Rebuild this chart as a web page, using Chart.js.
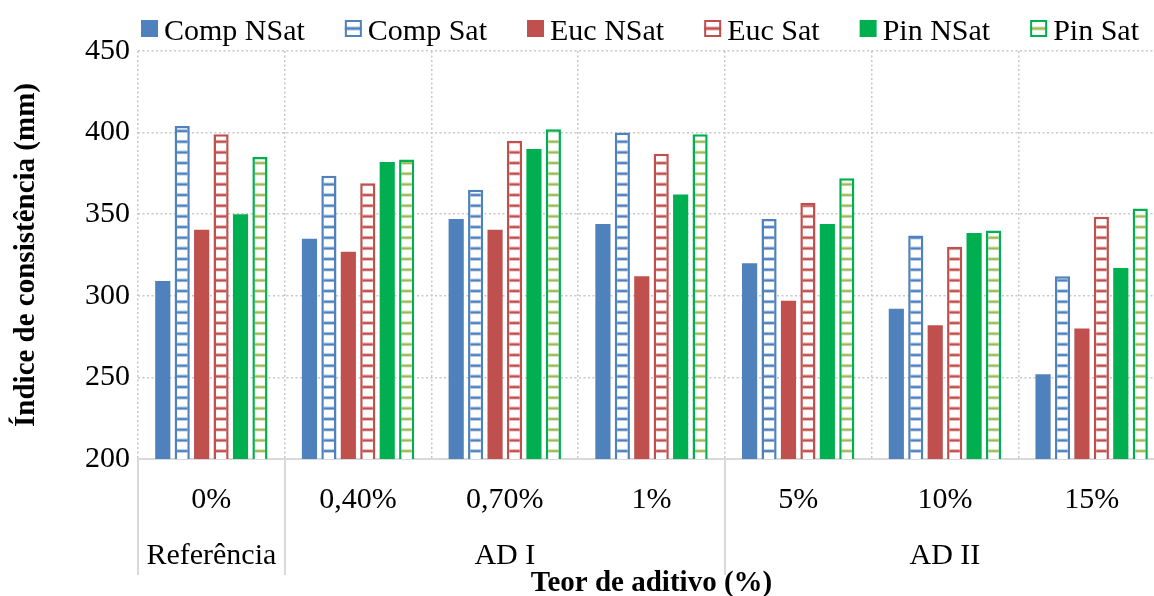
<!DOCTYPE html>
<html>
<head>
<meta charset="utf-8">
<script src="https://cdn.jsdelivr.net/npm/chart.js@4.4.1/dist/chart.umd.min.js"></script>
<style>
  html, body { margin: 0; padding: 0; overflow: hidden; background: #fff; width: 1154px; height: 596px; }
  canvas { display: block; }
</style>
</head>
<body>
<canvas id="chart" width="1166" height="596"></canvas>
<script>
// Additive content per mix, grouped by additive type
const categories = ['0%', '0,40%', '0,70%', '1%', '5%', '10%', '15%'];
const groupLabels = ['Referência', 'AD I', 'AD II'];
const groupSpans = [1, 3, 3];

// Consistency index (mm) per series
const compNSat = [309, 335, 347, 344, 320, 292, 252];
const compSat  = [404, 373.5, 365, 400, 347, 337, 312];
const eucNSat  = [340.5, 327, 340.5, 312, 297, 282, 280];
const eucSat   = [399, 369, 395, 387, 357, 330, 348.5];
const pinNSat  = [350, 382, 390, 362, 344, 338.5, 317];
const pinSat   = [385, 383.5, 402, 399, 372, 340, 353.5];

const yTickValues = [200, 250, 300, 350, 400, 450];

const FONT = "'Liberation Serif', 'Times New Roman', serif";

// Horizontal-stripe fill for the saturated series
function stripes(core, band) {
  const c = document.createElement('canvas');
  c.width = 8; c.height = 32;
  const g = c.getContext('2d');
  g.fillStyle = '#ffffff';
  g.fillRect(0, 0, 8, 32);
  for (let k = 0; k < 3; k++) {
    const y = k * 32 / 3 + 2;
    g.fillStyle = band;
    g.fillRect(0, y - 0.8, 8, 3.6);
    g.fillStyle = core;
    g.fillRect(0, y + 0.2, 8, 1.8);
  }
  return g.createPattern(c, 'repeat');
}

const BLUE = '#4f81bd', RED = '#c0504d', GREEN = '#00b050';

const series = [
  { label: 'Comp NSat', data: compNSat, color: BLUE,  striped: false },
  { label: 'Comp Sat',  data: compSat,  color: BLUE,  striped: true, core: '#4f81bd', band: '#abc3e2' },
  { label: 'Euc NSat',  data: eucNSat,  color: RED,   striped: false },
  { label: 'Euc Sat',   data: eucSat,   color: RED,   striped: true, core: '#c0504d', band: '#e2abaa' },
  { label: 'Pin NSat',  data: pinNSat,  color: GREEN, striped: false },
  { label: 'Pin Sat',   data: pinSat,   color: GREEN, striped: true, core: '#9bbb59', band: '#d3e0b4' }
];

const datasets = series.map(s => ({
  label: s.label,
  data: s.data,
  backgroundColor: s.striped ? stripes(s.core, s.band) : s.color,
  borderColor: s.color,
  borderWidth: s.striped ? 2.5 : 0,
  borderSkipped: false,
  categoryPercentage: 0.795,
  barPercentage: 0.78
}));

// Legend row across the top
const legendRow = {
  id: 'legendRow',
  afterDraw(chart) {
    const ctx = chart.ctx;
    ctx.save();
    ctx.font = `30px ${FONT}`;
    const box = 17, gapText = 6, startX = 141, endX = 1139;
    const widths = series.map(s => ctx.measureText(s.label).width);
    const used = widths.reduce((a, b) => a + b, 0) + series.length * (box + gapText);
    const gap = (endX - startX - used) / (series.length - 1);
    let x = startX;
    const top = 20;
    series.forEach((s, i) => {
      if (s.striped) {
        ctx.fillStyle = '#fff';
        ctx.fillRect(x, top, box, box);
        ctx.fillStyle = s.band;
        ctx.fillRect(x, top + box / 2 - 2, box, 4);
        ctx.fillStyle = s.core;
        ctx.fillRect(x, top + box / 2 - 1, box, 2);
        ctx.strokeStyle = s.color;
        ctx.lineWidth = 2;
        ctx.strokeRect(x + 1, top + 1, box - 2, box - 2);
      } else {
        ctx.fillStyle = s.color;
        ctx.fillRect(x, top, box, box);
      }
      ctx.fillStyle = '#000';
      ctx.textBaseline = 'alphabetic';
      ctx.textAlign = 'left';
      ctx.fillText(s.label, x + box + gapText, 39.5);
      x += box + gapText + widths[i] + gap;
    });
    ctx.restore();
  }
};

// Second label row with group separators under the category axis
const groupRow = {
  id: 'groupRow',
  afterDraw(chart) {
    const ctx = chart.ctx;
    const xs = chart.scales.x;
    const half = (xs.getPixelForValue(1) - xs.getPixelForValue(0)) / 2;
    const base = chart.chartArea.bottom;
    ctx.save();
    ctx.strokeStyle = '#d9d9d9';
    ctx.lineWidth = 2;
    ctx.font = `30px ${FONT}`;
    ctx.fillStyle = '#000';
    ctx.textAlign = 'center';
    ctx.textBaseline = 'middle';
    let idx = 0;
    groupLabels.forEach((g, gi) => {
      const from = idx, to = idx + groupSpans[gi] - 1;
      const left = xs.getPixelForValue(from) - half;
      const right = xs.getPixelForValue(to) + half;
      [left, right].forEach(px => {
        ctx.beginPath();
        ctx.moveTo(Math.round(px), base);
        ctx.lineTo(Math.round(px), 575);
        ctx.stroke();
      });
      ctx.fillText(g, (left + right) / 2, 556);
      idx = to + 1;
    });
    ctx.restore();
  }
};

new Chart(document.getElementById('chart'), {
  type: 'bar',
  data: { labels: categories, datasets },
  plugins: [legendRow, groupRow],
  options: {
    responsive: false,
    animation: false,
    devicePixelRatio: 1,
    layout: { padding: { top: 51, right: 1, left: 0, bottom: 0 } },
    plugins: { legend: { display: false }, tooltip: { enabled: false } },
    scales: {
      x: {
        grid: { offset: true, color: '#c8c8c8', lineWidth: 1.5, drawTicks: false },
        border: { display: true, color: '#d9d9d9', width: 2, dash: [2, 2.5] },
        ticks: { font: { family: FONT, size: 30, lineHeight: 1.2 }, color: '#000', padding: 23, maxRotation: 0, autoSkip: false },
        title: {
          display: true, text: 'Teor de aditivo (%)', color: '#000',
          font: { family: FONT, size: 29, weight: 'bold', lineHeight: 0.86 },
          padding: { top: 0, bottom: 0 }
        },
        afterFit(s) { s.height = 137; }
      },
      y: {
        min: 200, max: 450,
        afterBuildTicks(s) { s.ticks = yTickValues.map(v => ({ value: v })); },
        grid: { color: '#c8c8c8', lineWidth: 1.5, drawTicks: false },
        border: { display: false, dash: [2, 2.5] },
        ticks: { font: { family: FONT, size: 30 }, color: '#000', padding: 8 },
        title: {
          display: true, text: 'Índice de consistência (mm)', color: '#000',
          font: { family: FONT, size: 29, weight: 'bold', lineHeight: 1.2 },
          padding: { top: 9, bottom: 0 }
        },
        afterFit(s) { s.width = 138; }
      }
    }
  }
});
</script>
</body>
</html>
